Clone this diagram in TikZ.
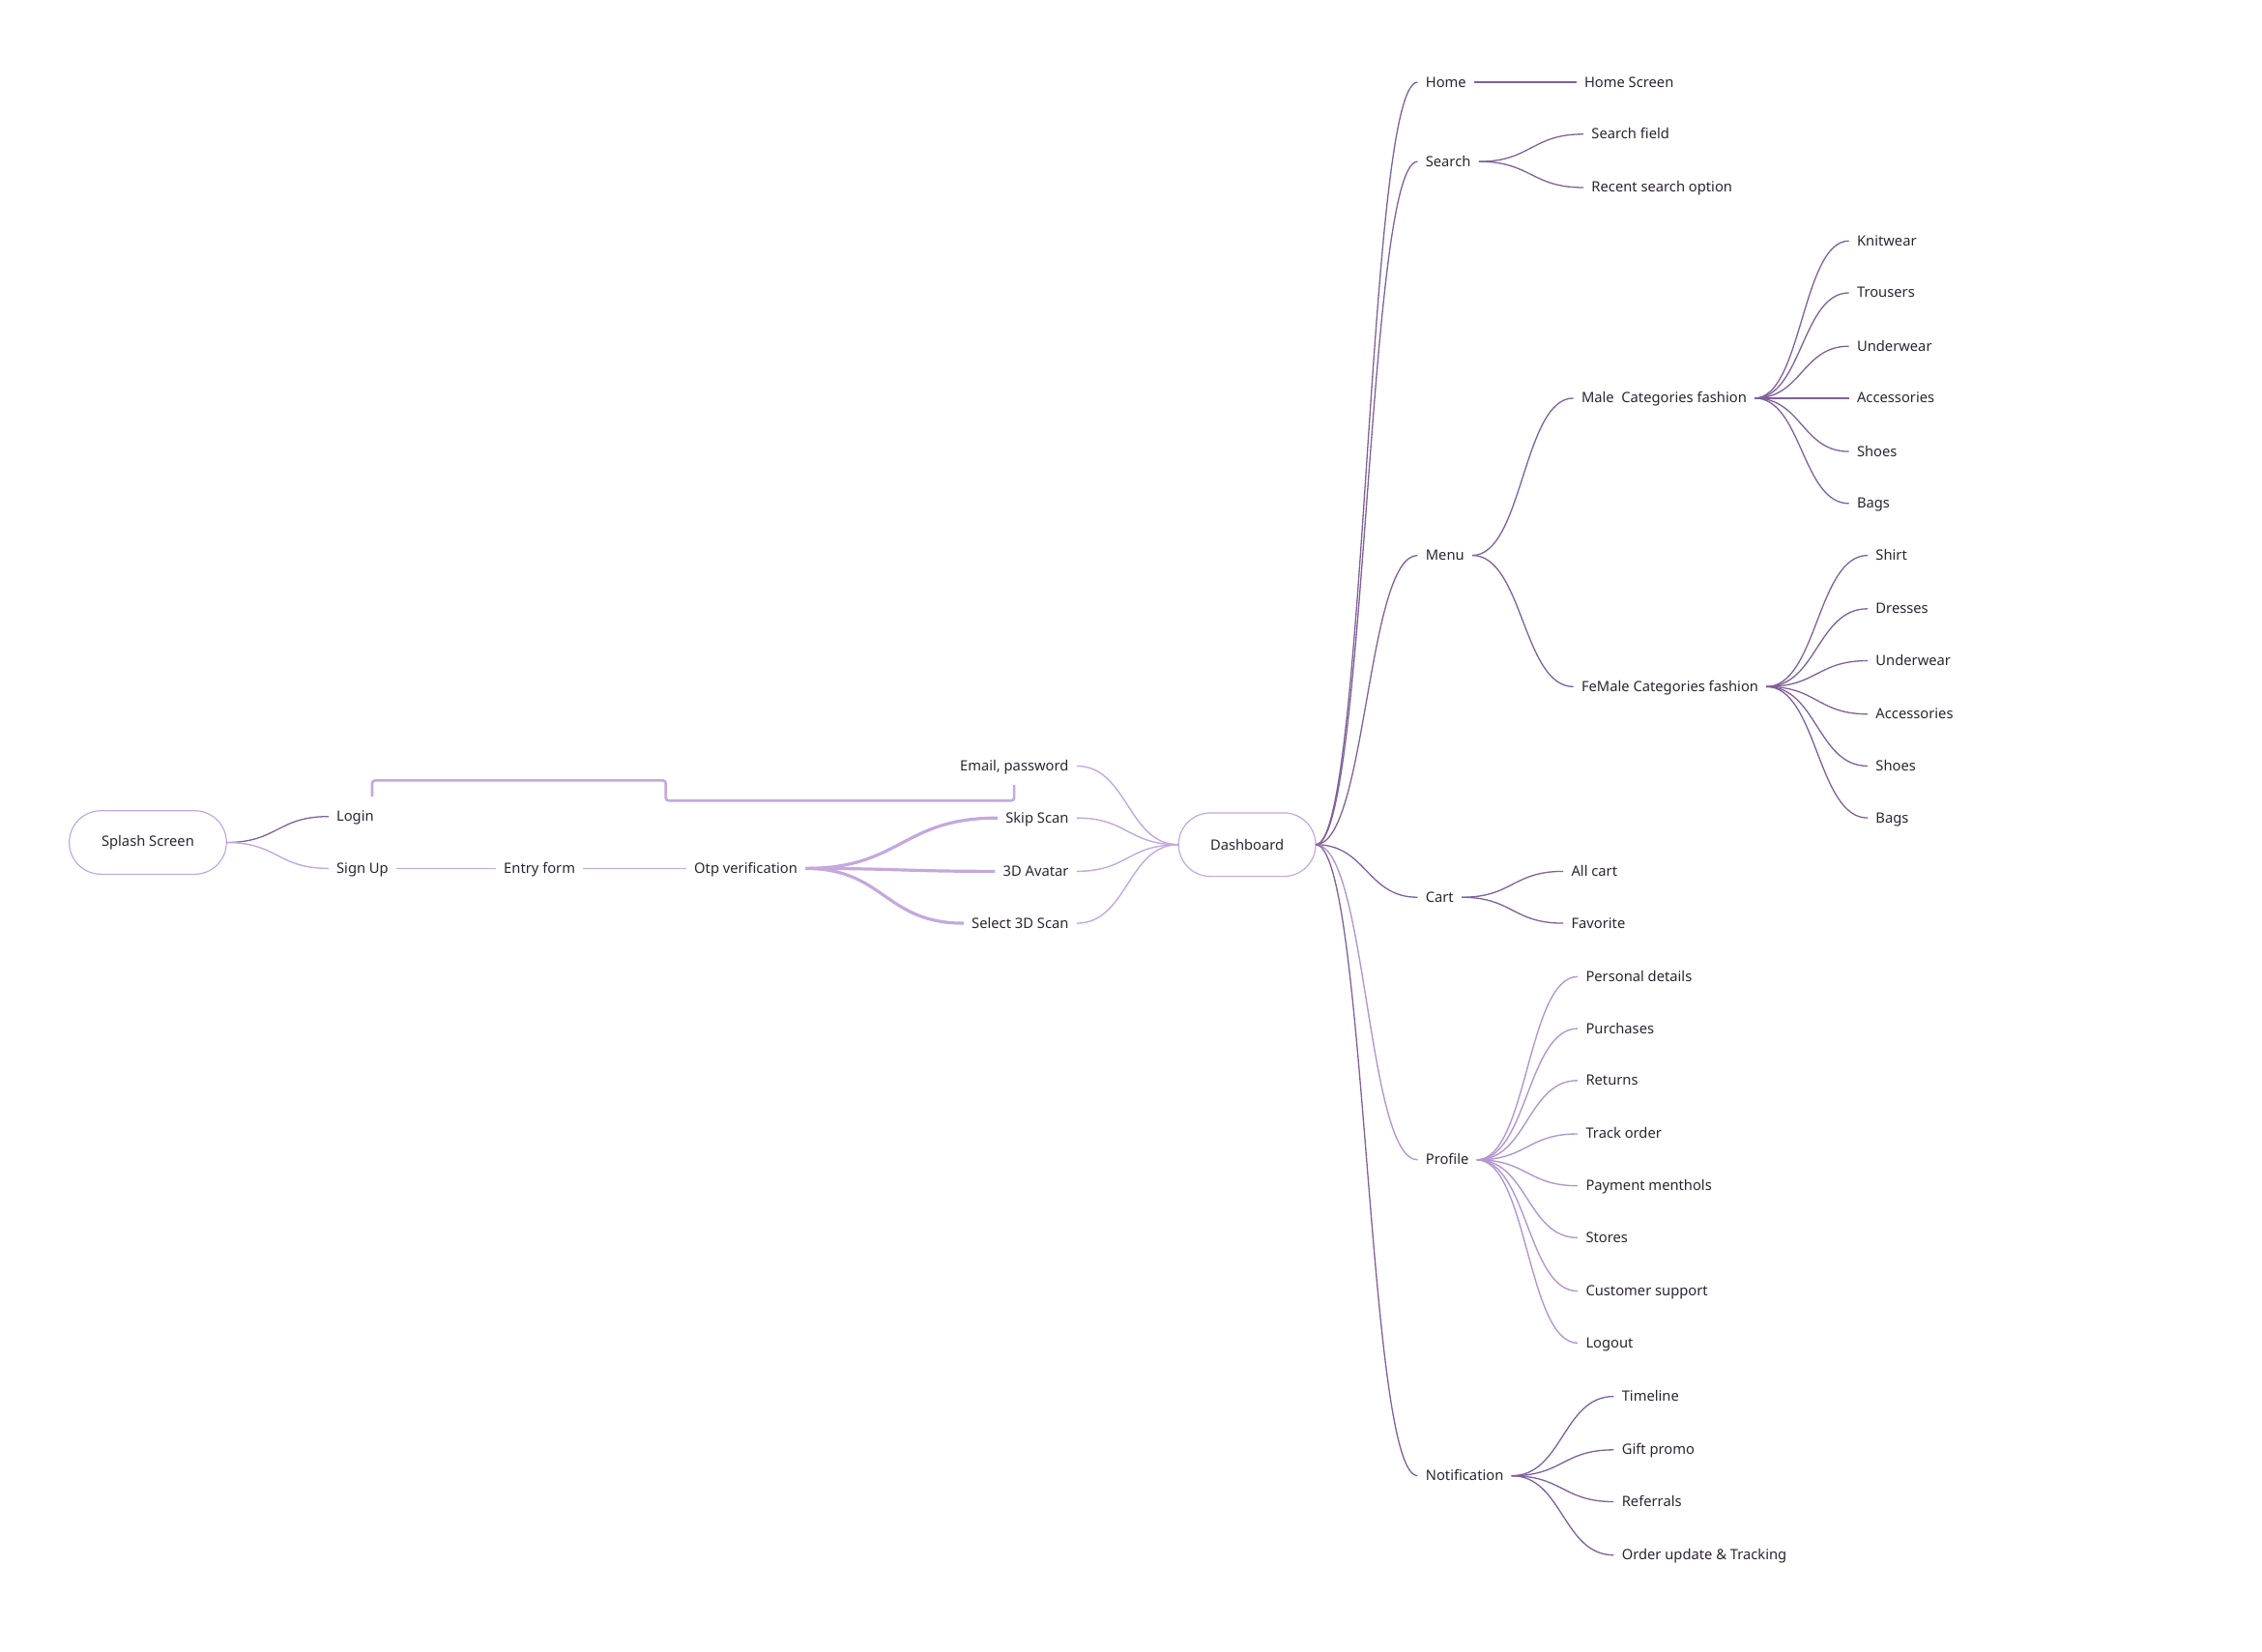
\documentclass[tikz,border=0pt]{standalone}
\usepackage{fontspec}
\setmainfont{Noto Sans}
\usetikzlibrary{calc}
\definecolor{txt}{HTML}{2D2433}
\definecolor{dk}{HTML}{80609A}
\definecolor{lt}{HTML}{C4A8DE}
\definecolor{md}{HTML}{B497CF}
\begin{document}
\begin{tikzpicture}[x=0.75pt,y=-0.75pt,
  base/.style={inner xsep=4pt, inner ysep=0pt, text height=5pt, text depth=0pt, text=txt, font=\fontsize{7.4}{9}\selectfont},
  lbl/.style={base, anchor=west, xshift=-4pt},
  lblr/.style={base, anchor=east, xshift=4pt},
  box/.style={draw=lt, line width=0.6pt, rounded corners=16.5pt, minimum height=33pt, inner sep=0pt, outer sep=0pt, text=txt, font=\fontsize{7.4}{9}\selectfont},
  branch/.style={to path={let \p1=(\tikztostart), \p2=(\tikztotarget) in .. controls ({0.5*(\x1+\x2)},\y1) and ({0.5*(\x1+\x2)},\y2) .. (\tikztotarget)}},
  dkl/.style={draw=dk, line width=0.65pt},
  ltl/.style={draw=lt, line width=0.7pt},
  mdl/.style={draw=md, line width=0.7pt},
  thk/.style={draw=lt, line width=1.6pt},
  bracket/.style={draw=lt, line width=1.3pt, rounded corners=1.5pt}
]
\fill[white] (0,0) rectangle (1568,1145);
\useasboundingbox (0,0) rectangle (1568,1145);

% left part
\node[box, minimum width=81.75pt] (splash) at (102.5,584) {Splash Screen};
\node[lbl] (login) at (233,566) {Login};
\node[lbl] (signup) at (233,602) {Sign Up};
\node[lbl] (entry) at (349,602) {Entry form};
\node[lbl] (otp) at (481,602) {Otp verification};
\node[lblr] (email) at (741,531) {Email, password};
\node[lblr] (skip) at (741,567) {Skip Scan};
\node[lblr] (avatar) at (741,604) {3D Avatar};
\node[lblr] (select) at (741,640) {Select 3D Scan};
\node[box, minimum width=71.25pt] (dash) at (864.5,585.5) {Dashboard};

\draw[dkl] (splash.east) to[branch] (login.west);
\draw[ltl] (splash.east) to[branch] (signup.west);
\draw[ltl] (signup.east) -- (entry.west);
\draw[ltl] (entry.east) -- (otp.west);
\draw[thk] (otp.east) to[branch] (skip.west);
\draw[thk] (otp.east) to[branch] (avatar.west);
\draw[thk] (otp.east) to[branch] (select.west);
\draw[ltl] (email.east) to[branch] (dash.west);
\draw[ltl] (skip.east) to[branch] (dash.west);
\draw[ltl] (avatar.east) to[branch] (dash.west);
\draw[ltl] (select.east) to[branch] (dash.west);

\coordinate (brA) at (258,552);
\coordinate (brB) at (703,544);
\draw[bracket] (brA) -- (258,541) -- (461.5,541) -- (461.5,555) -- (703,555) -- (brB);

% right part
\node[lbl] (home) at (988,57) {Home};
\node[lbl] (homescreen) at (1098,57) {Home Screen};
\node[lbl] (search) at (988,112) {Search};
\node[lbl] (sfield) at (1103,93) {Search field};
\node[lbl] (recent) at (1103,130) {Recent search option};
\node[lbl] (menu) at (988,385) {Menu};
\node[lbl] (male) at (1096,276) {Male~ Categories fashion};
\node[lbl] (female) at (1096,476) {FeMale Categories fashion};
\node[lbl] (m1) at (1287,167) {Knitwear};
\node[lbl] (m2) at (1287,203) {Trousers};
\node[lbl] (m3) at (1287,240) {Underwear};
\node[lbl] (m4) at (1287,276) {Accessories};
\node[lbl] (m5) at (1287,313) {Shoes};
\node[lbl] (m6) at (1287,349) {Bags};
\node[lbl] (f1) at (1300,385) {Shirt};
\node[lbl] (f2) at (1300,422) {Dresses};
\node[lbl] (f3) at (1300,458) {Underwear};
\node[lbl] (f4) at (1300,495) {Accessories};
\node[lbl] (f5) at (1300,531) {Shoes};
\node[lbl] (f6) at (1300,567) {Bags};
\node[lbl] (cart) at (988,622) {Cart};
\node[lbl] (allcart) at (1089,604) {All cart};
\node[lbl] (fav) at (1089,640) {Favorite};
\node[lbl] (profile) at (988,804) {Profile};
\node[lbl] (p1) at (1099,677) {Personal details};
\node[lbl] (p2) at (1099,713) {Purchases};
\node[lbl] (p3) at (1099,749) {Returns};
\node[lbl] (p4) at (1099,786) {Track order};
\node[lbl] (p5) at (1099,822) {Payment menthols};
\node[lbl] (p6) at (1099,858) {Stores};
\node[lbl] (p7) at (1099,895) {Customer support};
\node[lbl] (p8) at (1099,931) {Logout};
\node[lbl] (notif) at (988,1023) {Notification};
\node[lbl] (n1) at (1124,968) {Timeline};
\node[lbl] (n2) at (1124,1005) {Gift promo};
\node[lbl] (n3) at (1124,1041) {Referrals};
\node[lbl] (n4) at (1124,1078) {Order update \& Tracking};

\draw[dkl] (dash.east) to[branch] (home.west);
\draw[dkl] (dash.east) to[branch] (search.west);
\draw[dkl] (dash.east) to[branch] (menu.west);
\draw[dkl] (dash.east) to[branch] (cart.west);
\draw[mdl] (dash.east) to[branch] (profile.west);
\draw[dkl] (dash.east) to[branch] (notif.west);

\draw[dkl] (home.east) -- (homescreen.west);
\draw[dkl] (search.east) to[branch] (sfield.west);
\draw[dkl] (search.east) to[branch] (recent.west);
\draw[dkl] (menu.east) to[branch] (male.west);
\draw[dkl] (menu.east) to[branch] (female.west);
\foreach \k in {m1,m2,m3,m4,m5,m6} \draw[dkl] (male.east) to[branch] (\k.west);
\foreach \k in {f1,f2,f3,f4,f5,f6} \draw[dkl] (female.east) to[branch] (\k.west);
\draw[dkl] (cart.east) to[branch] (allcart.west);
\draw[dkl] (cart.east) to[branch] (fav.west);
\foreach \k in {p1,p2,p3,p4,p5,p6,p7,p8} \draw[mdl] (profile.east) to[branch] (\k.west);
\foreach \k in {n1,n2,n3,n4} \draw[dkl] (notif.east) to[branch] (\k.west);
\end{tikzpicture}
\end{document}
